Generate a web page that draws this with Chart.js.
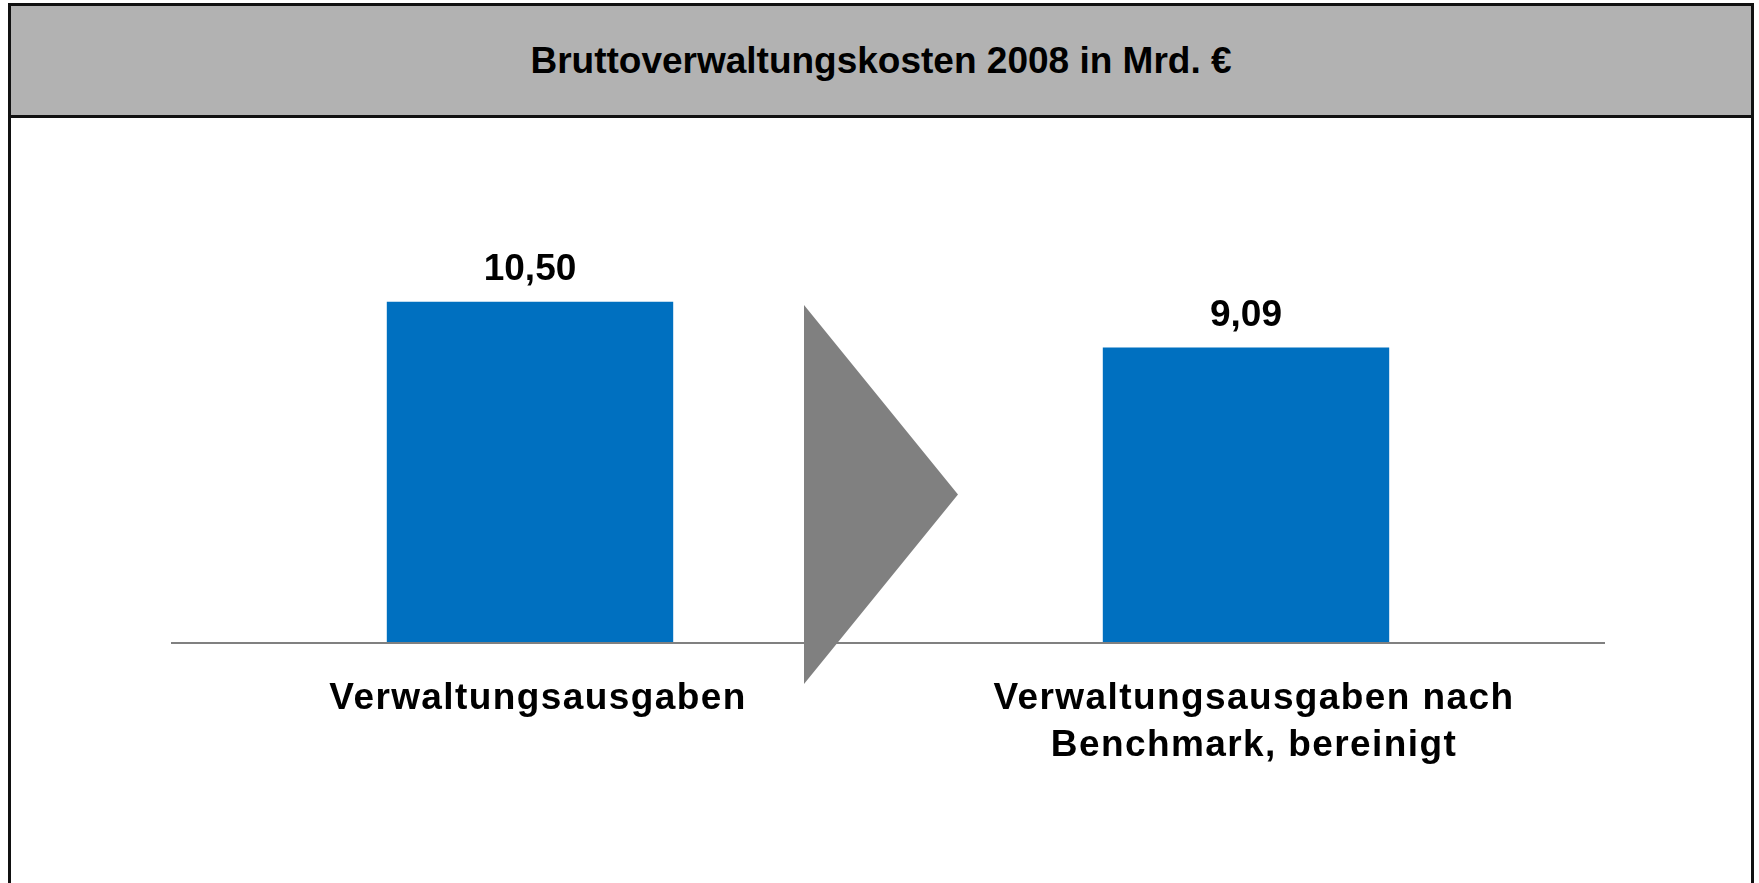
<!DOCTYPE html>
<html lang="de">
<head>
<meta charset="utf-8">
<title>Bruttoverwaltungskosten 2008</title>
<script src="https://cdn.jsdelivr.net/npm/chart.js@4.4.1/dist/chart.umd.min.js"></script>
<style>
  html, body { margin: 0; padding: 0; background: #fff; overflow: hidden; }
  body { width: 1759px; height: 883px; position: relative; font-family: "Liberation Sans", Arial, sans-serif; }
  #frame {
    position: absolute; left: 8px; top: 3px; width: 1740px; height: 900px;
    border: 3px solid #111; border-bottom: none;
  }
  #header {
    height: 109px; background: #b2b2b2; border-bottom: 3px solid #111;
    display: flex; align-items: center; justify-content: center;
    font-weight: bold; font-size: 37px; color: #000;
  }
  #chart { position: absolute; left: 0; top: 0; }
</style>
</head>
<body>
<div id="frame"><div id="header">Bruttoverwaltungskosten 2008 in Mrd. €</div></div>
<canvas id="chart" width="1759" height="883"></canvas>
<script>
document.addEventListener("DOMContentLoaded", () => {
  const categories = [["Verwaltungsausgaben"], ["Verwaltungsausgaben nach", "Benchmark, bereinigt"]];
  const values = [10.50, 9.09];
  const barColor = "#0070c0";
  const fontFamily = '"Liberation Sans", Arial, sans-serif';

  // value labels above bars + grey arrow between the two bars
  const extras = {
    id: "extras",
    beforeDraw(chart) {
      // category labels are a bit spaced out in the original
      chart.ctx.letterSpacing = "1.4px";
    },
    afterDraw(chart) {
      const ctx = chart.ctx;
      ctx.letterSpacing = "0px";
      ctx.save();
      const x = chart.scales.x;
      const area = chart.chartArea;

      // arrow
      const mid = (x.getPixelForValue(0) + x.getPixelForValue(1)) / 2;
      const top = area.bottom - 338;
      const bottom = area.bottom + 41;
      ctx.fillStyle = "#808080";
      ctx.beginPath();
      ctx.moveTo(mid - 84, top);
      ctx.lineTo(mid + 70, (top + bottom) / 2);
      ctx.lineTo(mid - 84, bottom);
      ctx.closePath();
      ctx.fill();

      // values
      ctx.fillStyle = "#000";
      ctx.font = "bold 37px " + fontFamily;
      ctx.textAlign = "center";
      ctx.textBaseline = "middle";
      chart.getDatasetMeta(0).data.forEach((bar, i) => {
        ctx.fillText(values[i].toFixed(2).replace(".", ","), bar.x, bar.y - 32);
      });
      ctx.restore();
    }
  };

  new Chart(document.getElementById("chart"), {
    type: "bar",
    data: {
      labels: categories,
      datasets: [{
        data: values,
        backgroundColor: barColor,
        categoryPercentage: 1,
        barPercentage: 0.4
      }]
    },
    options: {
      responsive: false,
      devicePixelRatio: 1,
      animation: false,
      layout: { padding: { left: 172, right: 155, top: 188, bottom: 0 } },
      plugins: { legend: { display: false }, tooltip: { enabled: false } },
      scales: {
        x: {
          grid: { display: false, drawTicks: false },
          border: { display: true, color: "#808080", width: 2, z: 1 },
          ticks: {
            color: "#000",
            padding: 32,
            labelOffset: 8,
            maxRotation: 0,
            autoSkip: false,
            font: { family: fontFamily, size: 37, weight: "bold", lineHeight: 1.27 }
          },
          afterFit(scale) { scale.height = 240; }
        },
        y: { display: false, min: 0, max: 14 }
      }
    },
    plugins: [extras]
  });
});
</script>
</body>
</html>
